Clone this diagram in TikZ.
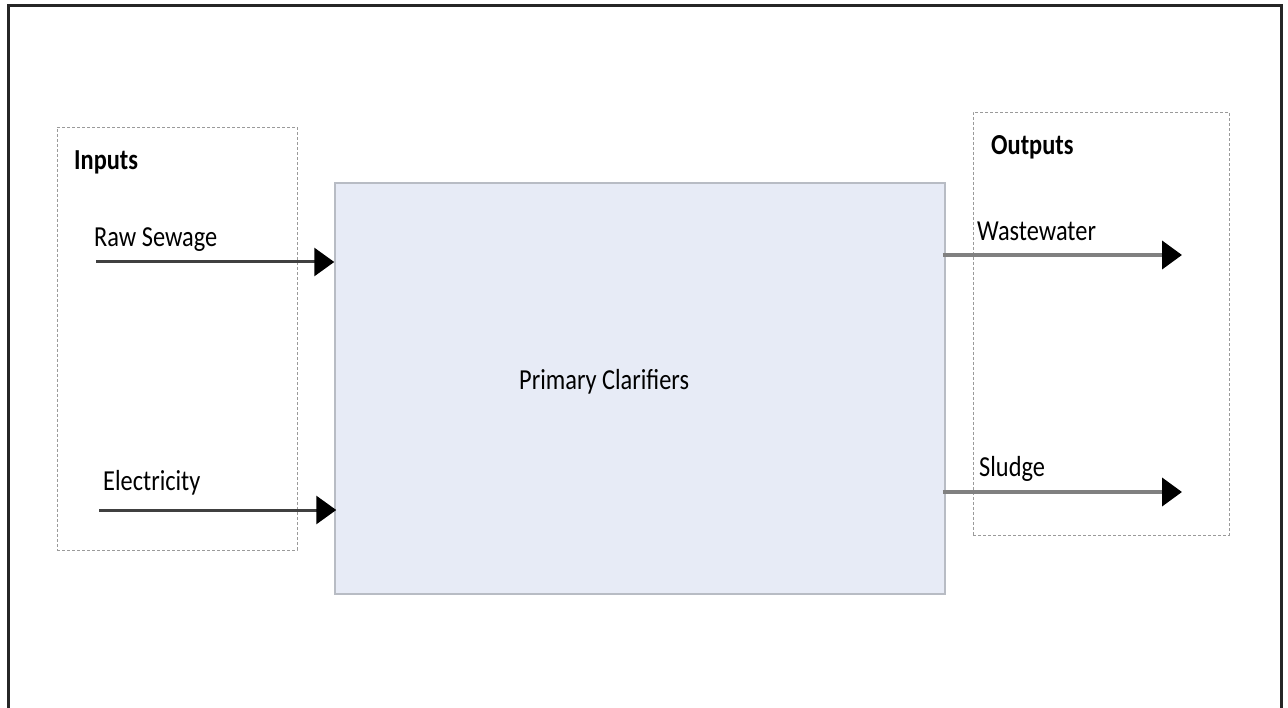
\documentclass[tikz,border=0pt]{standalone}
\usepackage{fontspec}
\setmainfont{Carlito}[FakeStretch=0.84]
\usetikzlibrary{arrows.meta}
\definecolor{boxfill}{HTML}{E7EBF6}
\definecolor{boxline}{HTML}{B8BCC4}
\definecolor{dashline}{HTML}{9A9A9A}
\tikzset{
  groupbox/.style={draw=dashline, densely dashed, line width=0.9pt},
  label/.style={anchor=west, inner sep=0pt, font=\fontsize{29}{33}\selectfont},
  heading/.style={label, font=\fontsize{29}{33}\selectfont\bfseries},
  flowin/.style={draw=black!75, line width=3pt, -{Triangle[length=20pt,width=28pt,color=black]}},
  flowout/.style={draw=black!50, line width=4pt, -{Triangle[length=20pt,width=28pt,color=black]}},
}
\begin{document}
\begin{tikzpicture}[x=1pt,y=-1pt]
\useasboundingbox (0,0) rectangle (1288,708);
% open frame
\draw[line width=3pt, black!85] (8,710) -- (8,6) -- (1281,6) -- (1281,710);
% group boxes
\node[groupbox, minimum width=240pt, minimum height=423pt, inner sep=0pt] (inbox) at (177,338.5) {};
\node[groupbox, minimum width=256pt, minimum height=423pt, inner sep=0pt] (outbox) at (1101,323.5) {};
% process box
\node[draw=boxline, fill=boxfill, line width=1.5pt, minimum width=610pt, minimum height=411pt, inner sep=0pt] (pc) at (640,388.5) {};
\node[label] (pclabel) at (519,382) {Primary Clarifiers};
% headings
\node[heading] (inlabel) at (74,162) {Inputs};
\node[heading] (outlabel) at (991,147) {Outputs};
% flow labels
\node[label] (rawlabel) at (94,240) {Raw Sewage};
\node[label] (eleclabel) at (103,483) {Electricity};
\node[label] (wwlabel) at (977,231) {Wastewater};
\node[label] (sludgelabel) at (979,469) {Sludge};
% flow end points
\coordinate (rawstart) at (96,262);
\coordinate (elecstart) at (99,510);
\coordinate (wwend) at (1182,255);
\coordinate (sludgeend) at (1182,492);
% flows
\draw[flowin] (rawstart) -- (rawstart -| pc.west);
\draw[flowin] (elecstart) -- ([xshift=2pt]elecstart -| pc.west);
\draw[flowout] ([xshift=-3pt]wwend -| pc.east) -- (wwend);
\draw[flowout] ([xshift=-3pt]sludgeend -| pc.east) -- (sludgeend);
\end{tikzpicture}
\end{document}
